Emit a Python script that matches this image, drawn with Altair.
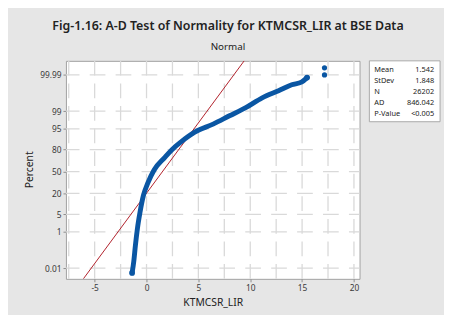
import altair as alt
import pandas as pd
from statistics import NormalDist

ND = NormalDist()

title_text = "Fig-1.16: A-D Test of Normality for KTMCSR_LIR at BSE Data"
subtitle_text = "Normal"
x_title = "KTMCSR_LIR"
y_title = "Percent"

# ordered sample values (x) vs cumulative percent
curve_x = [-1.39, -1.23, -1.07, -0.88, -0.63, -0.31, 0.13, 0.73, 1.75, 2.45,
           3.3, 4.65, 6.42, 8.0, 9.57, 11.15, 12.73, 14.0, 14.94, 15.48]
curve_pct = [0.0048, 0.027, 0.23, 1.39, 5.8, 17.4, 33.0, 52.4, 70.5, 80.0,
             87.1, 93.5, 96.6, 98.4, 99.3, 99.77, 99.906, 99.958, 99.971, 99.985]
end_x = [-1.39, 15.48]
end_pct = [0.0048, 99.985]
outlier_x = [17.16, 17.16]
outlier_pct = [99.990, 99.9967]

fit_mean = 1.542
fit_sd = 1.848
stat_names = ["Mean", "StDev", "N", "AD", "P-Value"]
stat_values = ["1.542", "1.848", "26202", "846.042", "<0.005"]

y_tick_pct = [0.01, 1, 5, 20, 50, 80, 95, 99, 99.99]
y_tick_labels = ["0.01", "1", "5", "20", "50", "80", "95", "99", "99.99"]
x_ticks = [-5, 0, 5, 10, 15, 20]
x_grid = [-7.5, -5, -2.5, 0, 2.5, 5, 7.5, 10, 12.5, 15, 17.5, 20]

X_DOMAIN = [-7.77, 20.54]
Z_DOMAIN = [-4.13, 4.26]

def z(p):
    return ND.inv_cdf(p / 100.0)

curve_df = pd.DataFrame({"x": curve_x, "z": [z(p) for p in curve_pct], "i": range(len(curve_x))})
end_df = pd.DataFrame({"x": end_x, "z": [z(p) for p in end_pct]})
out_df = pd.DataFrame({"x": outlier_x, "z": [z(p) for p in outlier_pct]})
fit_z = Z_DOMAIN
fit_df = pd.DataFrame({"x": [fit_mean + fit_sd * v for v in fit_z], "z": fit_z})
ytick_z = [z(p) for p in y_tick_pct]
xgrid_df = pd.DataFrame({"x": x_grid})
ygrid_df = pd.DataFrame({"z": ytick_z})

label_expr = "''"
for zz, lab in reversed(list(zip(ytick_z, y_tick_labels))):
    label_expr = f"abs(datum.value - ({zz:.6f})) < 0.01 ? '{lab}' : ({label_expr})"

xs = alt.Scale(domain=X_DOMAIN, nice=False, zero=False)
ys = alt.Scale(domain=Z_DOMAIN, nice=False, zero=False)

AX_FONT = "Noto Sans"
x_axis = alt.Axis(values=x_ticks, labelExpr="'' + datum.value", title=None, grid=False,
                  domain=False, tickSize=3, tickColor="#8c8c8c", labelFont=AX_FONT,
                  labelFontSize=8.5, labelColor="#3a3a3a", labelPadding=2, labelOverlap=False)
y_axis = alt.Axis(values=ytick_z, labelExpr=label_expr, title=None, grid=False,
                  domain=False, tickSize=3, tickColor="#8c8c8c", labelFont=AX_FONT,
                  labelFontSize=8.5, labelColor="#3a3a3a", labelPadding=2, labelOverlap=False)

X = alt.X("x:Q", scale=xs, axis=x_axis)
Y = alt.Y("z:Q", scale=ys, axis=y_axis)

GRID = "#d9d9d9"
vgrid = alt.Chart(xgrid_df).mark_rule(color=GRID, strokeWidth=1.3, strokeDash=[15, 8]).encode(x=X)
hgrid = alt.Chart(ygrid_df).mark_rule(color=GRID, strokeWidth=1.3, strokeDash=[16, 10.4],
                                      strokeDashOffset=5.2).encode(y=Y)

fit = alt.Chart(fit_df).mark_line(color="#b0202a", strokeWidth=1, clip=True).encode(x=X, y=Y)

BLUE = "#0a56a3"
curve = alt.Chart(curve_df).mark_line(color=BLUE, strokeWidth=5, strokeCap="round",
                                      strokeJoin="round", interpolate="monotone").encode(
    x=X, y=Y, order="i:Q")
ends = alt.Chart(end_df).mark_circle(color=BLUE, size=34, opacity=1).encode(x=X, y=Y)
outs = alt.Chart(out_df).mark_circle(color=BLUE, size=28, opacity=1).encode(x=X, y=Y)

one = pd.DataFrame({"t": [title_text], "s": [subtitle_text], "xt": [x_title], "yt": [y_title]})
title_m = alt.Chart(one).mark_text(font="Noto Sans", fontSize=12.6, fontWeight=600, color="#222222",
                                   align="center", baseline="alphabetic").encode(
    text="t:N", x=alt.value(165), y=alt.value(-31))
sub_m = alt.Chart(one).mark_text(font="Noto Sans", fontSize=10, color="#222222",
                                 align="center", baseline="alphabetic").encode(
    text="s:N", x=alt.value(165), y=alt.value(-11.5))
xt_m = alt.Chart(one).mark_text(font="Noto Sans", fontSize=10.5, color="#222222",
                                align="center", baseline="alphabetic").encode(
    text="xt:N", x=alt.value(150), y=alt.value(250))
yt_m = alt.Chart(one).mark_text(font="Noto Sans", fontSize=10.5, color="#222222", angle=270,
                                align="center", baseline="middle").encode(
    text="yt:N", x=alt.value(-37), y=alt.value(111))

box = alt.Chart(one).mark_rect(fill="white", stroke="#a8a8a8", strokeWidth=1).encode(
    x=alt.value(309), x2=alt.value(381), y=alt.value(0), y2=alt.value(62))

stats_df = pd.DataFrame({"name": stat_names, "val": stat_values, "row": range(len(stat_names))})
stat_base = alt.Chart(stats_df).transform_calculate(py="11 + datum.row * 11.4")
stat_names_m = stat_base.mark_text(font="Noto Sans", fontSize=7.5, color="#222222",
                                   align="left", baseline="alphabetic").encode(
    text="name:N", x=alt.value(314), y=alt.Y("py:Q", scale=None, axis=None))
stat_vals_m = stat_base.mark_text(font="Noto Sans", fontSize=7.5, color="#222222",
                                  align="right", baseline="alphabetic").encode(
    text="val:N", x=alt.value(375), y=alt.Y("py:Q", scale=None, axis=None))

chart = alt.layer(vgrid, hgrid, fit, curve, ends, outs, title_m, sub_m, xt_m, yt_m,
                  box, stat_names_m, stat_vals_m).properties(
    width=299, height=222,
    autosize=alt.AutoSizeParams(type="none"),
    padding={"left": 59, "top": 51, "right": 86, "bottom": 34},
    background="#e6e6e6",
).configure_view(stroke="#a0a0a0", strokeWidth=1, fill="white")

chart.save("out.html", embed_options={"renderer": "svg", "actions": False})
